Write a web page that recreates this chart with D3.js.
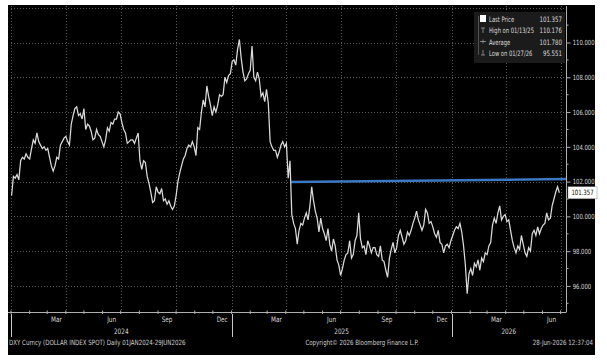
<!DOCTYPE html>
<html><head><meta charset="utf-8">
<script src="https://cdn.jsdelivr.net/npm/d3@7"></script>
<style>
body{margin:0;background:#fff}
svg{display:block}
text{font-family:"DejaVu Sans Condensed","DejaVu Sans",sans-serif}
</style>
</head><body><svg id="c" width="607" height="360"></svg>
<script>
// ---------------- DATA ----------------
const seriesStart = "2024-01-02";   // first observation
const seriesStepDays = 3;           // spacing of the observations below
const dxyValues = [
 101.2,102.3,102.2,102.4,102.1,103.2,103.4,103.3,103.6,103.4,
 103.3,103.9,104.4,104.2,104.8,104.3,104.1,103.9,104.0,103.8,
 103.9,103.4,102.9,102.6,102.9,103.4,103.3,104.1,104.3,104.5,
 104.6,104.3,104.1,105.3,105.8,106.2,106.3,105.8,105.9,105.6,
 106.2,105.0,105.3,105.2,104.9,104.4,104.5,105.0,104.7,104.6,
 104.3,104.0,104.4,105.1,104.9,105.4,105.3,105.6,105.6,106.0,
 105.9,105.4,105.0,104.8,104.2,104.3,104.4,104.4,104.2,104.5,
 104.8,103.2,102.7,103.2,103.1,102.3,101.9,101.4,100.8,100.9,
 101.7,101.4,101.3,101.6,100.9,101.0,100.7,100.9,100.6,100.4,
 100.6,101.2,102.0,102.5,102.9,103.3,103.5,103.9,104.1,104.0,
 104.3,104.0,103.5,105.1,105.0,106.0,106.7,106.3,107.5,106.9,
 106.4,105.8,106.3,106.0,106.4,107.0,106.9,107.0,108.0,107.7,
 108.1,108.2,108.9,109.0,108.7,109.6,110.176,109.1,108.3,107.8,
 107.9,108.2,108.4,109.8,108.0,107.8,108.3,107.9,106.9,107.1,
 106.6,107.3,106.5,104.3,104.0,103.8,103.8,103.4,103.7,104.1,
 104.3,104.0,104.2,102.2,103.2,100.1,99.6,99.3,98.4,99.2,
 99.6,99.5,99.9,100.2,99.8,100.6,101.7,100.9,100.3,99.9,
 99.1,99.9,99.3,99.0,98.6,99.3,98.4,98.0,98.7,98.3,
 97.5,97.2,96.6,97.0,97.5,97.8,97.9,98.6,97.6,97.8,
 98.6,98.9,100.2,98.7,98.2,98.3,97.8,98.6,98.3,97.9,
 98.2,98.2,97.8,97.7,98.3,97.5,97.4,96.9,96.5,97.6,
 98.1,98.5,97.9,98.2,98.9,99.2,98.8,98.4,98.6,99.1,
 98.9,99.2,99.6,99.9,100.3,99.8,99.5,99.2,99.5,100.4,
 100.2,99.6,99.7,99.4,99.0,98.8,99.2,98.5,98.4,97.9,
 98.3,98.4,98.2,98.6,98.9,99.2,99.4,99.3,99.6,99.1,
 98.3,97.2,95.551,96.7,97.0,96.6,97.3,97.1,97.5,96.9,
 97.6,97.4,97.9,97.8,98.3,98.5,99.5,99.9,99.6,100.2,
 100.6,99.8,100.0,100.1,99.7,99.8,99.2,98.6,98.2,97.9,
 98.3,98.1,98.9,98.4,97.9,97.7,98.2,98.0,99.0,99.2,
 98.9,99.4,99.0,99.3,99.5,99.6,100.2,99.8,99.9,100.6,
 101.0,101.4,101.7,101.357
];
const trendDates = ["2025-04-10","2026-07-10"];
const trendValues = [101.97,102.15];

const yTickValues = [96,98,100,102,104,106,108,110];
const yMinorValues = [95,97,99,101,103,105,107,109,111];
const monthLabelDates = ["2024-03","2024-06","2024-09","2024-12","2025-03","2025-06","2025-09","2025-12","2026-03","2026-06"];
const monthLabels = ["Mar","Jun","Sep","Dec","Mar","Jun","Sep","Dec","Mar","Jun"];
const yearLabels = ["2024","2025","2026"];

const legendLabels = ["Last Price","High on 01/13/25","Average","Low on 01/27/26"];
const legendValues = ["101.357","110.176","101.780","95.551"];
const lastPriceLabel = "101.357";
const lastPrice = 101.357;

const footerLeft = "DXY Curncy (DOLLAR INDEX SPOT) Daily 01JAN2024-29JUN2026";
const footerMid = "Copyright\u00A9 2026 Bloomberg Finance L.P.";
const footerRight = "28-Jun-2026 12:37:04";

// ---------------- CHART ----------------
const parse = d3.timeParse("%Y-%m-%d");
const parseM = d3.timeParse("%Y-%m");
const t0 = parse(seriesStart);
const series = dxyValues.map((v,i)=>({date:d3.timeDay.offset(t0, i*seriesStepDays), value:v}));

const svg = d3.select("#c");
const plot = {left:11, right:566, top:6, bottom:312};
const x = d3.scaleTime().domain([parse("2024-01-01"), parse("2026-07-10")]).range([plot.left, plot.right]);
const y = d3.scaleLinear().domain([94.5, 112.1]).range([plot.bottom, plot.top]);

// horizontally condense text (narrow terminal-like font)
function squeeze(sel, k){
  sel.each(function(){
    const t = d3.select(this);
    const xx = +t.attr("x") || 0;
    t.attr("transform", `translate(${xx},0) scale(${k},1) translate(${-xx},0)`);
  });
}

// panel
svg.append("rect").attr("x",8).attr("y",5).attr("width",587).attr("height",350).attr("fill","#000");

// grid
const gridCol = "#5a5a5a";
const qStarts = d3.timeMonth.every(3).range(parse("2024-01-01"), parse("2026-07-02"));
svg.append("g").selectAll("line").data(qStarts).join("line")
  .attr("x1",d=>Math.round(x(d))+0.5).attr("x2",d=>Math.round(x(d))+0.5).attr("y1",plot.top).attr("y2",plot.bottom)
  .attr("stroke",gridCol).attr("stroke-width",1).attr("stroke-dasharray","1,2");
svg.append("g").selectAll("line").data(yTickValues.concat([112])).join("line")
  .attr("x1",plot.left).attr("x2",plot.right).attr("y1",d=>Math.round(y(d))+0.5).attr("y2",d=>Math.round(y(d))+0.5)
  .attr("stroke",gridCol).attr("stroke-width",1).attr("stroke-dasharray","1,2");

// right axis
const axisCol = "#b0b0b0";
const yAxis = svg.append("g").attr("transform",`translate(${plot.right+0.5},0)`)
  .call(d3.axisRight(y).tickValues(yTickValues).tickFormat(d3.format(".3f")).tickSize(4).tickSizeOuter(0).tickPadding(2));
yAxis.select(".domain").attr("stroke",axisCol).attr("d",`M0,${plot.top}V${plot.bottom}`);
yAxis.selectAll(".tick line").attr("stroke",axisCol);
yAxis.selectAll(".tick text").attr("fill","#d8d8d8").attr("font-size",7.2)
  .attr("font-family","'DejaVu Sans Condensed','DejaVu Sans',sans-serif")
  .attr("transform","scale(0.82,1)").attr("x",7.5);
svg.append("g").selectAll("line").data(yMinorValues).join("line")
  .attr("x1",plot.right).attr("x2",plot.right+2.5).attr("y1",d=>y(d)).attr("y2",d=>y(d))
  .attr("stroke",axisCol);

// bottom axis
svg.append("line").attr("x1",8).attr("x2",plot.right+0.5).attr("y1",plot.bottom+0.5).attr("y2",plot.bottom+0.5)
  .attr("stroke",axisCol).attr("stroke-width",1);
const mStarts = d3.timeMonth.range(parse("2024-01-01"), parse("2026-07-02"));
svg.append("g").selectAll("line").data(mStarts).join("line")
  .attr("x1",d=>x(d)).attr("x2",d=>x(d)).attr("y1",plot.bottom-1.5).attr("y2",plot.bottom+2)
  .attr("stroke",axisCol);
svg.append("g").selectAll("text").data(monthLabelDates).join("text")
  .attr("x",(d)=>{const m=parseM(d); return (x(m)+x(d3.timeMonth.offset(m,1)))/2;})
  .attr("y",322).attr("text-anchor","middle").attr("fill","#d8d8d8").attr("font-size",7.5)
  .text((d,i)=>monthLabels[i]).call(squeeze,0.85);
// year separators and labels
const yStarts = yearLabels.map(s=>parse(s+"-01-01"));
svg.append("g").selectAll("line").data(yStarts).join("line")
  .attr("x1",d=>Math.round(x(d))+0.5).attr("x2",d=>Math.round(x(d))+0.5).attr("y1",plot.bottom+2).attr("y2",337)
  .attr("stroke","#c8c8c8");
svg.append("g").selectAll("text").data(yStarts).join("text")
  .attr("x",(d)=>(x(d)+Math.min(x(d3.timeYear.offset(d,1)),plot.right))/2)
  .attr("y",334).attr("text-anchor","middle").attr("fill","#d8d8d8").attr("font-size",7.5)
  .text((d,i)=>yearLabels[i]).call(squeeze,0.85);

// trend line
svg.append("path").datum(trendDates.map((d,i)=>({date:parse(d),value:trendValues[i]})))
  .attr("d",d3.line().x(d=>x(d.date)).y(d=>y(d.value)))
  .attr("stroke","#3d78c2").attr("stroke-width",2.5).attr("fill","none");

// price line
svg.append("path").datum(series)
  .attr("d",d3.line().x(d=>x(d.date)).y(d=>y(d.value)))
  .attr("stroke","#dadada").attr("stroke-width",1.25).attr("fill","none").attr("stroke-linejoin","miter");

// last price tag
const ly = y(lastPrice);
svg.append("rect").attr("x",plot.right+2).attr("y",ly-6).attr("width",29).attr("height",12)
  .attr("fill","#fff").attr("stroke","#888").attr("stroke-width",0.5);
svg.append("text").attr("x",plot.right+16.5).attr("y",ly+2.6).attr("text-anchor","middle")
  .attr("fill","#000").attr("font-size",7.3).text(lastPriceLabel).call(squeeze,0.82);

// legend
const lg = svg.append("g");
lg.append("rect").attr("x",474).attr("y",12).attr("width",91).attr("height",51).attr("fill","#1b1b1b");
const rowY = [20,31.5,43,54];
lg.append("line").attr("x1",478.5).attr("x2",478.5).attr("y1",16).attr("y2",rowY[3]+1).attr("stroke","#777").attr("stroke-width",0.6);
lg.append("rect").attr("x",480).attr("y",15).attr("width",6).attr("height",7).attr("fill","#fff");
lg.append("path").attr("d",`M481,${rowY[1]-3.5}H485M483,${rowY[1]-3.5}V${rowY[1]+1.5}`).attr("stroke","#999").attr("stroke-width",0.8).attr("fill","none");
lg.append("path").attr("d",`M480,${rowY[2]-1.5}H486M483,${rowY[2]-3.5}V${rowY[2]+0.5}`).attr("stroke","#999").attr("stroke-width",0.8).attr("fill","none");
lg.append("path").attr("d",`M481,${rowY[3]+1}H485M483,${rowY[3]+1}V${rowY[3]-4}`).attr("stroke","#999").attr("stroke-width",0.8).attr("fill","none");
lg.selectAll("text.l").data(legendLabels).join("text").attr("class","l")
  .attr("x",489).attr("y",(d,i)=>rowY[i]+2).attr("fill","#dcdcdc").attr("font-size",7.4).text(d=>d).call(squeeze,0.78);
lg.selectAll("text.v").data(legendValues).join("text").attr("class","v")
  .attr("x",562).attr("y",(d,i)=>rowY[i]+2).attr("text-anchor","end").attr("fill","#dcdcdc").attr("font-size",7.4).text(d=>d).call(squeeze,0.82);

// footer
svg.append("text").attr("x",9).attr("y",345).attr("fill","#d0d0d0").attr("font-size",7.2).text(footerLeft).call(squeeze,0.85);
svg.append("text").attr("x",362).attr("y",345).attr("text-anchor","middle").attr("fill","#d0d0d0").attr("font-size",7.2).text(footerMid).call(squeeze,0.85);
svg.append("text").attr("x",593).attr("y",345).attr("text-anchor","end").attr("fill","#d0d0d0").attr("font-size",7.2).text(footerRight).call(squeeze,0.85);
</script>
</body></html>
